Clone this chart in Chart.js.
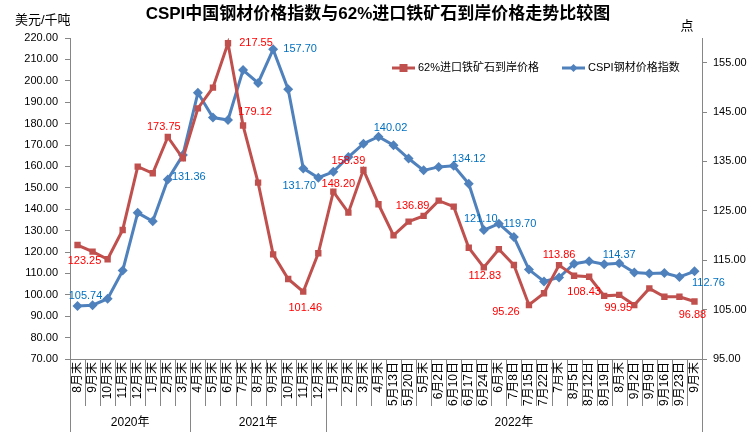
<!DOCTYPE html>
<html>
<head>
<meta charset="utf-8">
<script src="https://cdn.jsdelivr.net/npm/chart.js@4.4.1/dist/chart.umd.min.js"></script>
<style>
  html, body { margin: 0; padding: 0; background: #fff; }
</style>
</head>
<body>
<canvas id="chart" width="756" height="435"></canvas>
<script>
// 类别（横轴）
const categories = [
  "8月末", "9月末", "10月末", "11月末", "12月末", "1月末", "2月末", "3月末",
  "4月末", "5月末", "6月末", "7月末", "8月末", "9月末", "10月末", "11月末", "12月末",
  "1月末", "2月末", "3月末", "4月末", "5月13日", "5月20日", "5月末", "6月2日", "6月10日",
  "6月17日", "6月24日", "6月末", "7月8日", "7月15日", "7月22日", "7月末", "8月5日",
  "8月12日", "8月19日", "8月末", "9月2日", "9月9日", "9月16日", "9月23日", "9月末"
];
const yearNames = ["2020年", "2021年", "2022年"];
const yearSizes = [8, 9, 25];

// 62%进口铁矿石到岸价格（美元/千吨，左轴）
const orePrice = [
  123.25, 120.2, 116.6, 130.3, 159.9, 156.8, 173.75, 163.8, 187.1, 196.8, 217.55,
  179.12, 152.4, 118.9, 107.4, 101.46, 119.4, 148.2, 138.4, 158.39, 142.3, 127.8,
  134.2, 136.89, 144.0, 141.2, 122.0, 112.83, 121.3, 113.9, 95.26, 100.7, 113.86,
  108.9, 108.43, 99.5, 99.95, 95.2, 103.0, 99.1, 99.1, 96.88
];

// CSPI钢材价格指数（点，右轴）
const cspiIndex = [
  105.74, 105.9, 107.2, 112.9, 124.6, 122.9, 131.36, 136.3, 148.9, 143.9, 143.4,
  153.5, 150.9, 157.7, 149.6, 133.6, 131.7, 132.9, 135.9, 138.6, 140.02, 138.3,
  135.6, 133.2, 133.9, 134.12, 130.5, 121.1, 122.4, 119.7, 113.1, 110.7, 111.5,
  114.3, 114.8, 114.2, 114.37, 112.5, 112.3, 112.4, 111.6, 112.76
];

const leftTicks = [70, 80, 90, 100, 110, 120, 130, 140, 150, 160, 170, 180, 190, 200, 210, 220];
const rightTicks = [95, 105, 115, 125, 135, 145, 155];

// 数据标签：哪些点标数值，及文字相对点的偏移
const oreLabelAt = [
  { i: 0, dx: 7, dy: 16 }, { i: 6, dx: -4, dy: -10 }, { i: 10, dx: 28, dy: 0 },
  { i: 11, dx: 12, dy: -14 }, { i: 15, dx: 2, dy: 16 }, { i: 17, dx: 5, dy: -8 },
  { i: 19, dx: -15, dy: -9 }, { i: 23, dx: -11, dy: -10 }, { i: 27, dx: 1, dy: 9 },
  { i: 30, dx: -23, dy: 7 }, { i: 32, dx: 0, dy: -10 }, { i: 34, dx: -5, dy: 15 },
  { i: 36, dx: -1, dy: 13 }, { i: 41, dx: -2, dy: 13 }
];
const cspiLabelAt = [
  { i: 0, dx: 8, dy: -10 }, { i: 6, dx: 21, dy: -2 }, { i: 13, dx: 27, dy: 0 },
  { i: 16, dx: -19, dy: 8 }, { i: 20, dx: 12, dy: -9 }, { i: 25, dx: 15, dy: -7 },
  { i: 27, dx: -3, dy: -11 }, { i: 29, dx: 6, dy: -13 }, { i: 36, dx: 0, dy: -8 },
  { i: 41, dx: 14, dy: 12 }
];

const FONT = "'Liberation Sans', 'Noto Sans CJK SC', sans-serif";
const RED = "#C0504D";
const BLUE = "#4F81BD";
const AXIS = "#868686";

// 标题、单位、图例、年份分组、数据标签
const decor = {
  id: "decor",
  afterDraw(chart) {
    const ctx = chart.ctx;
    const area = chart.chartArea;
    const bw = (area.right - area.left) / categories.length;
    ctx.save();

    ctx.fillStyle = "#000";
    ctx.textBaseline = "middle";
    ctx.textAlign = "center";
    ctx.font = "bold 17px " + FONT;
    ctx.fillText("CSPI中国钢材价格指数与62%进口铁矿石到岸价格走势比较图", 378, 14);

    ctx.font = "13px " + FONT;
    ctx.textAlign = "left";
    ctx.fillText("美元/千吨", 15, 20);
    ctx.textAlign = "center";
    ctx.fillText("点", 687, 26);

    // 图例
    const legend = [
      { x: 392, text: "62%进口铁矿石到岸价格", color: RED, style: "rect" },
      { x: 562, text: "CSPI钢材价格指数", color: BLUE, style: "diamond" }
    ];
    ctx.font = "11px " + FONT;
    ctx.textAlign = "left";
    legend.forEach((l) => {
      ctx.strokeStyle = l.color;
      ctx.lineWidth = 3;
      ctx.beginPath();
      ctx.moveTo(l.x, 68);
      ctx.lineTo(l.x + 23, 68);
      ctx.stroke();
      ctx.fillStyle = l.color;
      const cx = l.x + 11.5;
      if (l.style === "rect") {
        ctx.fillRect(cx - 4, 64, 8, 8);
      } else {
        ctx.beginPath();
        ctx.moveTo(cx, 64); ctx.lineTo(cx + 4, 68); ctx.lineTo(cx, 72); ctx.lineTo(cx - 4, 68);
        ctx.closePath();
        ctx.fill();
      }
      ctx.fillStyle = "#000";
      ctx.fillText(l.text, l.x + 26, 68);
    });

    // 分类分隔线与年份
    ctx.strokeStyle = AXIS;
    ctx.lineWidth = 1;
    const bounds = [0];
    yearSizes.forEach((n) => bounds.push(bounds[bounds.length - 1] + n));
    for (let k = 0; k <= categories.length; k++) {
      const x = Math.round(area.left + k * bw) + 0.5;
      const long = bounds.includes(k);
      ctx.beginPath();
      ctx.moveTo(x, area.bottom);
      ctx.lineTo(x, long ? area.bottom + 73 : area.bottom + 47);
      ctx.stroke();
    }
    ctx.fillStyle = "#000";
    ctx.font = "12px " + FONT;
    ctx.textAlign = "center";
    yearNames.forEach((name, g) => {
      const cx = area.left + ((bounds[g] + bounds[g + 1]) / 2) * bw;
      ctx.fillText(name, cx, area.bottom + 64);
    });

    // 数据标签
    ctx.font = "11px " + FONT;
    const drawLabels = (dsIndex, specs, values, color) => {
      const pts = chart.getDatasetMeta(dsIndex).data;
      ctx.fillStyle = color;
      specs.forEach((s) => {
        const p = pts[s.i];
        ctx.fillText(values[s.i].toFixed(2), p.x + s.dx, p.y + s.dy);
      });
    };
    drawLabels(0, oreLabelAt, orePrice, "#FF0000");
    drawLabels(1, cspiLabelAt, cspiIndex, "#0070C0");
    ctx.restore();
  }
};

new Chart(document.getElementById("chart"), {
  type: "line",
  data: {
    labels: categories,
    datasets: [
      {
        label: "62%进口铁矿石到岸价格",
        data: orePrice,
        yAxisID: "y",
        borderColor: RED,
        backgroundColor: RED,
        borderWidth: 3,
        pointStyle: "rect",
        pointRadius: 4.5,
        pointBorderWidth: 0,
        tension: 0
      },
      {
        label: "CSPI钢材价格指数",
        data: cspiIndex,
        yAxisID: "y1",
        borderColor: BLUE,
        backgroundColor: BLUE,
        borderWidth: 3,
        pointStyle: "rectRot",
        pointRadius: 5,
        pointBorderWidth: 0,
        tension: 0
      }
    ]
  },
  options: {
    responsive: false,
    animation: false,
    devicePixelRatio: 1,
    layout: { padding: { top: 38, left: 0, right: 0, bottom: 0 } },
    plugins: {
      legend: { display: false },
      title: { display: false },
      tooltip: { enabled: false }
    },
    scales: {
      x: {
        type: "category",
        offset: true,
        grid: { display: false, drawTicks: false },
        border: { display: true, color: AXIS },
        ticks: {
          autoSkip: false,
          minRotation: 90,
          maxRotation: 90,
          padding: 3,
          color: "#000",
          font: { family: FONT, size: 12 }
        },
        afterFit: (s) => { s.height = 76; }
      },
      y: {
        position: "left",
        min: 70,
        max: 220,
        afterBuildTicks: (s) => { s.ticks = leftTicks.map((v) => ({ value: v })); },
        grid: { drawOnChartArea: false, tickLength: 5, color: AXIS },
        border: { color: AXIS },
        ticks: {
          padding: 7,
          color: "#000",
          font: { family: FONT, size: 11 },
          callback: (v) => v.toFixed(2)
        },
        afterFit: (s) => { s.width = 70; }
      },
      y1: {
        position: "right",
        min: 95,
        max: 160,
        afterBuildTicks: (s) => { s.ticks = rightTicks.map((v) => ({ value: v })); },
        grid: { drawOnChartArea: false, tickLength: 5, color: AXIS },
        border: { color: AXIS },
        ticks: {
          padding: 6,
          color: "#000",
          font: { family: FONT, size: 11 },
          callback: (v) => v.toFixed(2)
        },
        afterFit: (s) => { s.width = 54; }
      }
    }
  },
  plugins: [decor]
});
</script>
</body>
</html>
